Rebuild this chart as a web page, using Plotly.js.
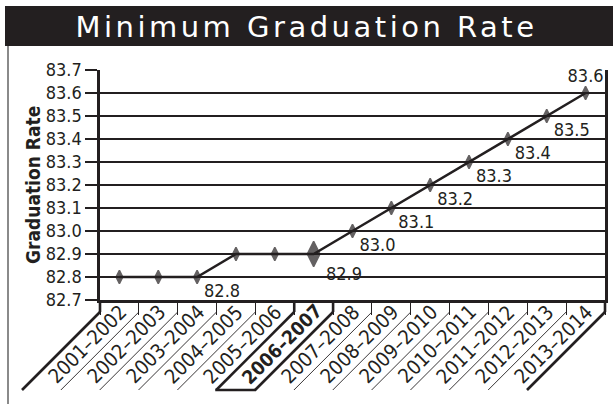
<!DOCTYPE html>
<html>
<head>
<meta charset="utf-8">
<script src="https://cdn.plot.ly/plotly-3.0.1.min.js"></script>
<style>
  html, body { margin: 0; padding: 0; background: #fff; }
  #chart { width: 613px; height: 404px; }
</style>
</head>
<body>
<div id="chart"></div>
<script>
// ---- data ----
const categories = ['2001–2002', '2002–2003', '2003–2004', '2004–2005', '2005–2006', '2006–2007',
  '2007–2008', '2008–2009', '2009–2010', '2010–2011', '2011–2012', '2012–2013', '2013–2014'];
const rates = [82.8, 82.8, 82.8, 82.9, 82.9, 82.9, 83.0, 83.1, 83.2, 83.3, 83.4, 83.5, 83.6];
const pointLabels = ['', '', '82.8', '', '', '82.9', '83.0', '83.1', '83.2', '83.3', '83.4', '83.5', '83.6'];
const yTickValues = [82.7, 82.8, 82.9, 83.0, 83.1, 83.2, 83.3, 83.4, 83.5, 83.6, 83.7];
const highlightIndex = 5;
const chartTitle = 'Minimum Graduation Rate';
const yTitle = 'Graduation Rate';

// ---- layout geometry ----
const FW = 613, FH = 404;
const M = { l: 100, r: 8, t: 70, b: 104 };
const PW = FW - M.l - M.r, PH = FH - M.t - M.b;
const plotBottom = FH - M.b;
const px = v => (v - M.l) / PW;
const py = v => (plotBottom - v) / PH;
const INK = '#231f20';
const NARROW = '"Liberation Sans Narrow", "DejaVu Sans Condensed", "Arial Narrow", sans-serif';

const n = categories.length;
const step = PW / n;
const tickBottom = plotBottom + 12;
const diagLen = 78;

const shapes = [];
// title bar
shapes.push({ type: 'rect', xref: 'paper', yref: 'paper', x0: px(5), x1: px(FW), y0: py(46), y1: py(6),
  fillcolor: INK, line: { width: 0 }, layer: 'below' });
// left border
shapes.push({ type: 'line', xref: 'paper', yref: 'paper', x0: px(8), x1: px(8), y0: py(46), y1: py(FH),
  line: { color: '#8a8a8a', width: 2 } });
// category band diagonals
for (let i = 0; i <= n; i++) {
  const b = M.l + i * step;
  const thick = (i === 0 || i === n || i === highlightIndex || i === highlightIndex + 1);
  const w = thick ? 2.6 : 0.9;
  if (thick) {
    shapes.push({ type: 'line', xref: 'paper', yref: 'paper', x0: px(b), x1: px(b), y0: py(plotBottom), y1: py(tickBottom),
      line: { color: INK, width: w } });
  }
  shapes.push({ type: 'line', xref: 'paper', yref: 'paper', x0: px(b), x1: px(b - diagLen), y0: py(tickBottom), y1: py(tickBottom + diagLen),
    line: { color: INK, width: w } });
}
// bottom edge of highlighted band
{
  const b0 = M.l + highlightIndex * step, b1 = b0 + step;
  shapes.push({ type: 'line', xref: 'paper', yref: 'paper', x0: px(b0 - diagLen - 1), x1: px(b1 - diagLen + 1),
    y0: py(tickBottom + diagLen), y1: py(tickBottom + diagLen), line: { color: INK, width: 2.6 } });
}

// category labels
const annotations = categories.map((c, i) => ({
  x: i, xref: 'x', y: py(tickBottom + 32), yref: 'paper', xshift: -32,
  text: i === highlightIndex ? '<b>' + c + '</b>' : c,
  textangle: -45, showarrow: false, xanchor: 'center', yanchor: 'middle',
  font: { family: NARROW, size: i === highlightIndex ? 19 : 20, color: INK }
}));
// y-axis title
annotations.push({
  x: px(33), xref: 'paper', y: py(185), yref: 'paper', text: '<b>' + yTitle + '</b>', textangle: -90,
  showarrow: false, xanchor: 'center', yanchor: 'middle',
  font: { family: NARROW, size: 19, color: INK }
});

const symbols = rates.map(() => 'diamond-tall');
const sizes = rates.map((_, i) => i === highlightIndex ? 18 : 9.5);
const positions = pointLabels.map((_, i) => i === n - 1 ? 'top center' : 'bottom right');

const trace = {
  type: 'scatter', mode: 'lines+markers+text',
  x: categories, y: rates,
  line: { color: INK, width: 2.5 },
  marker: { symbol: symbols, size: sizes, color: INK, line: { color: INK, width: 1.5 } },
  text: pointLabels, textposition: positions,
  textfont: { family: NARROW, size: 18, color: INK },
  cliponaxis: false, hoverinfo: 'skip'
};

const layout = {
  width: FW, height: FH,
  margin: M,
  paper_bgcolor: '#fff', plot_bgcolor: '#fff',
  showlegend: false,
  title: { text: chartTitle, x: 0.5, xref: 'container', xanchor: 'center', y: 1 - 27 / FH, yref: 'container', yanchor: 'middle',
    font: { family: '"DejaVu Sans", sans-serif', size: 29, color: '#ffffff' } },
  xaxis: {
    type: 'category', range: [-0.5, n - 0.5], showgrid: false, zeroline: false,
    showline: true, linecolor: INK, linewidth: 3,
    ticks: 'outside', tickson: 'boundaries', ticklen: 12, tickwidth: 1, tickcolor: INK,
    showticklabels: false, fixedrange: true
  },
  yaxis: {
    range: [82.7, 83.7], tickvals: yTickValues, tickformat: '.1f',
    showgrid: true, gridcolor: INK, gridwidth: 1.4, zeroline: false,
    showline: true, linecolor: INK, linewidth: 2.6, mirror: true,
    ticks: 'outside', ticklen: 12, tickwidth: 1.4, tickcolor: INK,
    tickfont: { family: NARROW, size: 18, color: INK },
    fixedrange: true
  },
  shapes: shapes,
  annotations: annotations
};

Plotly.newPlot('chart', [trace], layout, { displayModeBar: false, staticPlot: true }).then(() => {
  const t = document.querySelector('.gtitle');
  if (t) t.style.letterSpacing = '3.5px';
});
</script>
</body>
</html>
